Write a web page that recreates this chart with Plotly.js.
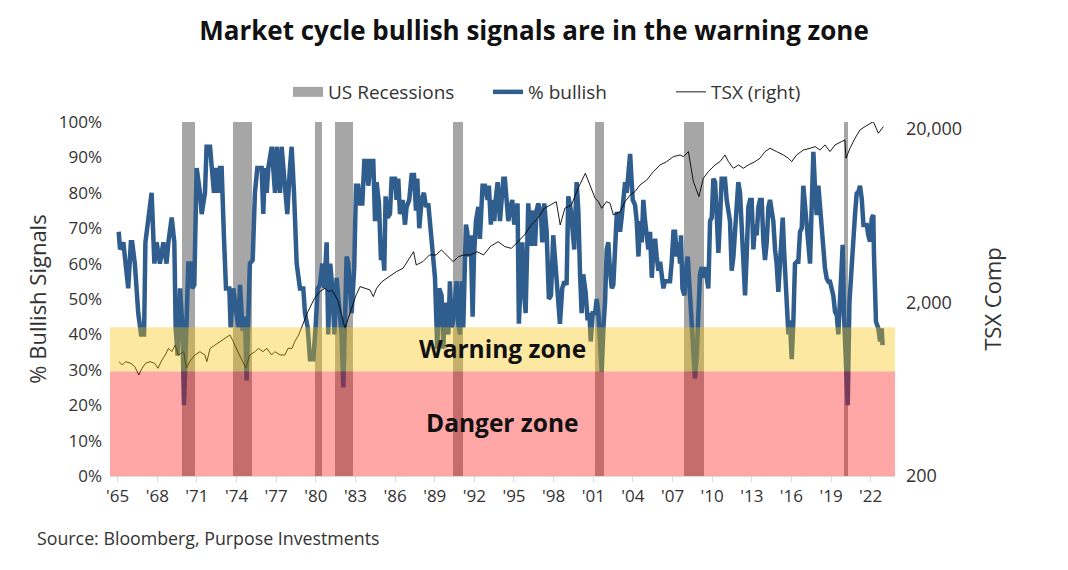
<!DOCTYPE html>
<html>
<head>
<meta charset="utf-8">
<script src="https://cdn.plot.ly/plotly-3.0.1.min.js"></script>
<style>
html,body{margin:0;padding:0;background:#fff;}
#chart{width:1068px;height:570px;}
</style>
</head>
<body>
<div id="chart"></div>
<script>
// ---- Data ----
var bullishYears = [1965.08,1965.18,1965.43,1965.6,1965.8,1966.0,1966.1,1966.3,1966.56,1966.77,1967.0,1967.1,1967.3,1967.57,1967.78,1967.95,1968.2,1968.46,1968.7,1968.84,1969.09,1969.29,1969.39,1969.54,1969.72,1969.9,1970.02,1970.22,1970.35,1970.55,1970.65,1970.8,1970.98,1971.23,1971.36,1971.61,1971.73,1971.99,1972.11,1972.29,1972.44,1972.62,1972.74,1972.87,1973.05,1973.2,1973.45,1973.55,1973.75,1973.96,1974.13,1974.26,1974.46,1974.64,1974.76,1974.89,1975.01,1975.22,1975.39,1975.57,1975.9,1976.02,1976.15,1976.28,1976.4,1976.66,1976.78,1976.91,1977.03,1977.16,1977.29,1977.41,1977.54,1977.66,1977.84,1978.04,1978.17,1978.35,1978.55,1978.8,1979.05,1979.18,1979.38,1979.56,1979.81,1979.98,1980.14,1980.31,1980.49,1980.64,1980.82,1980.94,1981.09,1981.25,1981.4,1981.57,1981.75,1981.95,1982.08,1982.2,1982.33,1982.46,1982.71,1982.91,1983.04,1983.21,1983.34,1983.52,1983.67,1983.85,1983.97,1984.17,1984.35,1984.48,1984.6,1984.78,1984.93,1985.03,1985.18,1985.28,1985.43,1985.61,1985.74,1985.99,1986.11,1986.24,1986.37,1986.57,1986.75,1986.87,1987.07,1987.25,1987.43,1987.58,1987.68,1987.83,1988.01,1988.18,1988.34,1988.51,1988.64,1988.84,1989.02,1989.19,1989.34,1989.52,1989.65,1989.77,1989.9,1990.03,1990.15,1990.28,1990.4,1990.53,1990.66,1990.78,1990.91,1991.04,1991.16,1991.36,1991.46,1991.62,1991.72,1991.87,1991.97,1992.12,1992.3,1992.42,1992.62,1992.8,1993.0,1993.1,1993.25,1993.36,1993.51,1993.61,1993.76,1993.94,1994.06,1994.19,1994.31,1994.44,1994.57,1994.69,1994.87,1995.02,1995.12,1995.27,1995.37,1995.53,1995.63,1995.78,1995.88,1996.08,1996.28,1996.46,1996.59,1996.71,1996.84,1997.04,1997.14,1997.29,1997.47,1997.64,1997.8,1997.97,1998.15,1998.3,1998.48,1998.65,1998.81,1998.98,1999.11,1999.31,1999.41,1999.56,1999.74,1999.87,2000.0,2000.12,2000.24,2000.42,2000.57,2000.71,2000.81,2000.96,2001.14,2001.26,2001.39,2001.46,2001.64,2001.77,2001.89,2002.02,2002.14,2002.27,2002.4,2002.52,2002.65,2002.78,2002.9,2003.03,2003.15,2003.28,2003.41,2003.53,2003.66,2003.79,2003.91,2003.99,2004.16,2004.29,2004.42,2004.54,2004.67,2004.79,2004.92,2005.05,2005.17,2005.3,2005.43,2005.55,2005.68,2005.8,2005.93,2006.06,2006.18,2006.31,2006.43,2006.56,2006.69,2006.81,2006.94,2007.07,2007.19,2007.32,2007.44,2007.57,2007.64,2007.75,2007.9,2008.0,2008.15,2008.25,2008.4,2008.58,2008.7,2008.83,2008.96,2009.08,2009.21,2009.33,2009.46,2009.59,2009.71,2009.84,2009.97,2010.09,2010.22,2010.34,2010.47,2010.6,2010.72,2010.85,2010.97,2011.1,2011.23,2011.35,2011.48,2011.61,2011.73,2011.86,2011.98,2012.11,2012.24,2012.36,2012.49,2012.61,2012.74,2012.87,2012.99,2013.12,2013.25,2013.37,2013.5,2013.62,2013.75,2013.88,2014.0,2014.13,2014.26,2014.38,2014.51,2014.63,2014.76,2014.88,2015.01,2015.14,2015.26,2015.34,2015.44,2015.59,2015.69,2015.77,2015.89,2016.02,2016.15,2016.27,2016.4,2016.52,2016.65,2016.78,2016.9,2017.03,2017.16,2017.28,2017.41,2017.53,2017.66,2017.79,2017.91,2018.04,2018.16,2018.29,2018.42,2018.54,2018.67,2018.8,2018.92,2019.05,2019.17,2019.3,2019.43,2019.55,2019.68,2019.81,2019.88,2019.98,2020.13,2020.26,2020.39,2020.49,2020.64,2020.81,2020.94,2021.07,2021.19,2021.32,2021.45,2021.57,2021.7,2021.82,2021.95,2022.08,2022.2,2022.25,2022.4,2022.58,2022.71,2022.83,2022.9];
var bullishPct = [69,64,66,60,53,66,66,60,46,40,40,66,73,80,60,66,60,66,60,66,73,66,42,34,53,42,20,44,60,60,53,54,87,80,74,80,93,93,87,80,87,80,87,87,67,53,53,42,53,46,42,54,41,45,27,45,60,61,80,87,87,74,87,80,87,93,87,80,93,87,80,93,87,80,74,87,93,80,60,53,53,46,42,33,33,42,53,54,60,53,66,40,60,53,40,56,47,40,25,42,62,60,46,59,82,82,77,77,89,89,82,89,89,72,83,77,61,66,58,79,73,74,84,84,78,84,74,78,71,76,78,85,85,75,84,70,78,80,76,77,71,62,56,36,53,51,36,49,45,40,55,42,44,49,55,43,40,55,42,71,69,62,68,45,62,72,76,67,82,82,78,82,71,78,72,78,83,72,78,84,84,78,72,75,78,71,73,77,43,56,66,51,46,77,65,75,65,75,77,74,66,77,69,50,51,68,60,52,43,53,55,54,79,75,71,64,83,75,57,46,57,52,44,46,38,46,46,50,46,42,29.5,42,49,64,66,58,53,54,66,74,74,69,73,77.5,83,80,86,91,83,78,76.6,72,62,72,66,78,72,68,64,69,56,64,67,62,58,60.5,56,53,55,55,55,55,60.5,69,69,62,66,60,68,53,51,58,62,55,46,36,27.6,34,45,57,59,56,59,55,53,72,73,84,83,74,63,73,84,84,84,78,74,72,58,62,69,76,83,80,70,62,51,62,76,78,78,64,71,68,76,78,78,66,61,66,76,78,74,72,64,60,52,62,69,73,64,55,45,40,44,33,44,60,60.5,60.5,69,70,82,76.6,70,66,60,75.6,91.6,81,73.7,82,76.6,70.9,62.4,58.7,55.8,54.9,54.9,53,51,46.4,45.5,40,49,59.6,65.3,45.5,31.4,20,49,55.8,64.3,73.7,79.8,80.3,82,78.4,70.9,70.9,70.9,68,66.2,72.8,73.7,62.4,43.6,41.7,38,41.7,37];

var tsxYears = [1965.1,1965.35,1965.6,1966.0,1966.3,1966.6,1966.85,1967.1,1967.45,1967.8,1968.05,1968.35,1968.6,1968.85,1969.1,1969.35,1969.6,1970.0,1970.2,1970.45,1970.85,1971.23,1971.6,1971.75,1972.0,1972.4,1972.75,1973.1,1973.5,1973.75,1974.0,1974.25,1974.5,1974.7,1975.0,1975.4,1975.65,1976.0,1976.3,1976.65,1976.9,1977.3,1977.65,1977.9,1978.2,1978.4,1978.7,1978.9,1979.0,1979.4,1979.9,1980.3,1980.7,1980.95,1981.2,1981.45,1981.7,1981.95,1982.2,1982.45,1982.8,1983.05,1983.35,1983.7,1984.1,1984.35,1984.6,1985.0,1985.35,1985.75,1986.1,1986.6,1987.1,1987.4,1987.6,1988.1,1988.6,1989.1,1989.5,1989.9,1990.4,1990.8,1991.2,1991.7,1992.2,1992.7,1993.2,1993.8,1994.3,1994.8,1995.3,1995.8,1996.3,1996.8,1997.3,1997.8,1998.2,1998.5,1998.85,1999.35,1999.85,2000.4,2000.75,2001.14,2001.39,2001.64,2002.0,2002.27,2002.52,2002.78,2003.03,2003.4,2003.8,2004.16,2004.54,2005.05,2005.55,2006.06,2006.56,2007.07,2007.57,2007.82,2008.2,2008.58,2008.83,2009.0,2009.33,2009.71,2010.22,2010.6,2010.97,2011.23,2011.6,2012.0,2012.36,2012.74,2013.25,2013.62,2014.0,2014.38,2014.88,2015.39,2015.77,2016.02,2016.4,2016.9,2017.41,2017.79,2018.16,2018.54,2018.92,2019.3,2019.8,2020.05,2020.13,2020.43,2020.81,2021.19,2021.57,2021.95,2022.2,2022.58,2022.83,2022.96];
var tsxLevel = [912,873,912,892,853,764,835,892,912,892,835,932,996,1088,1041,1138,996,1041,835,912,996,1041,996,912,1088,1138,1189,1243,1300,1189,1088,996,912,835,996,1041,1088,1041,1088,996,1041,996,996,1088,1088,1189,1300,1420,1484,1771,2113,2309,2414,2309,2361,2209,2022,1694,1420,1621,1934,2209,2468,2414,2361,2161,2414,2636,2756,2880,3011,3148,3594,3926,3290,3438,3756,3756,4015,3756,3438,3674,3756,3756,3926,3756,4200,4480,4200,4100,4480,4900,5590,6110,6980,7290,7620,5590,6980,7290,9100,11100,9510,7970,7620,6980,7620,7460,6390,6530,6680,7620,8330,8710,9510,10160,11350,12400,12970,13850,14160,13850,14800,9940,8710,8150,10390,11350,12400,12970,14160,12970,11870,12400,11870,12400,12970,13550,14800,15470,14800,14160,13550,12970,14160,15130,15470,15820,15130,16180,14800,16180,16910,17290,13550,15470,17670,19730,20630,21570,22030,18880,20180,20630];

var recessionStart = [1969.9,1973.75,1979.95,1981.45,1990.4,2001.15,2007.85,2019.95];
var recessionEnd   = [1970.85,1975.15,1980.5,1982.85,1991.15,2001.85,2009.35,2020.25];

var xTickVals = [1965,1968,1971,1974,1977,1980,1983,1986,1989,1992,1995,1998,2001,2004,2007,2010,2013,2016,2019,2022];
var xTickText = ["'65","'68","'71","'74","'77","'80","'83","'86","'89","'92","'95","'98","'01","'04","'07","'10","'13","'16","'19","'22"];

var warningZone = [29.5, 42];
var dangerZone = [0, 29.5];

// ---- Derived bar geometry ----
var recMid = recessionStart.map(function(s,i){return (s+recessionEnd[i])/2;});
var recWidth = recessionStart.map(function(s,i){return recessionEnd[i]-s;});
var recHeight = recessionStart.map(function(){return 100;});

var FONT = 'Open Sans, sans-serif';
var traces = [
  {type:'bar', x:recMid, y:recHeight, width:recWidth, marker:{color:'#A6A6A6', line:{width:0}},
   name:'US Recessions', showlegend:false, legendgroup:'rec', hoverinfo:'skip', xaxis:'x', yaxis:'y'},
  {type:'scatter', mode:'lines', x:[null], y:[null], name:'US Recessions', legendgroup:'rec', legendwidth:155,
   line:{color:'#A6A6A6', width:10}, xaxis:'x', yaxis:'y'},
  {type:'scatter', mode:'lines', x:bullishYears, y:bullishPct, name:'% bullish', legendwidth:138,
   line:{color:'#2F5D8E', width:4.5}, xaxis:'x', yaxis:'y'},
  {type:'scatter', mode:'lines', x:tsxYears, y:tsxLevel, name:'TSX (right)', legendwidth:100,
   line:{color:'#000000', width:0.9}, xaxis:'x', yaxis:'y2'}
];

var layout = {
  width:1068, height:570,
  margin:{l:110, r:173, t:122, b:94},
  paper_bgcolor:'#ffffff', plot_bgcolor:'#ffffff',
  font:{family:FONT, color:'#222', size:17},
  barmode:'overlay', bargap:0,
  title:{text:'<b>Market cycle bullish signals are in the warning zone</b>', font:{family:FONT, size:26, color:'#111'},
         xref:'container', x:0.5, xanchor:'center', yref:'container', y:1-31/570, yanchor:'middle'},
  showlegend:true,
  legend:{orientation:'h', xref:'container', yref:'container', x:288/1068, xanchor:'left', y:1-92/570, yanchor:'middle',
          font:{family:FONT, size:19, color:'#333'}, traceorder:'normal', tracegroupgap:0},
  xaxis:{range:[1964.42, 2023.84], tickmode:'array', tickvals:xTickVals, ticktext:xTickText,
         showgrid:false, zeroline:false, showline:true, linecolor:'#D9D9D9', linewidth:1,
         ticks:'outside', ticklen:5, tickcolor:'#D9D9D9', tickfont:{size:17, color:'#333'}},
  yaxis:{range:[0,100], dtick:10, ticksuffix:'%', showgrid:false, zeroline:false, showline:false,
         tickfont:{size:17, color:'#333'}, ticklabelstandoff:7,
         title:{text:'% Bullish Signals', font:{size:22, color:'#333'}, standoff:6}},
  yaxis2:{type:'log', range:[2.301, 4.341], overlaying:'y', side:'right', tickmode:'array',
          tickvals:[200,2000,20000], ticktext:['200','2,000','20,000'], showgrid:false, zeroline:false,
          showline:false, tickfont:{size:18, color:'#333'}, ticklabelstandoff:10,
          title:{text:'TSX Comp', font:{size:22, color:'#333'}, standoff:24}},
  shapes:[
    {type:'rect', layer:'above', xref:'x domain', yref:'y', x0:0, x1:1, y0:warningZone[0], y1:warningZone[1],
     fillcolor:'rgba(247,192,0,0.37)', line:{width:0}},
    {type:'rect', layer:'above', xref:'x domain', yref:'y', x0:0, x1:1, y0:dangerZone[0], y1:dangerZone[1],
     fillcolor:'rgba(255,0,0,0.35)', line:{width:0}}
  ],
  annotations:[
    {text:'<b>Warning zone</b>', xref:'x', yref:'y', x:1994.1, y:35.9, showarrow:false,
     font:{family:FONT, size:24.5, color:'#111'}},
    {text:'<b>Danger zone</b>', xref:'x', yref:'y', x:1994.1, y:15, showarrow:false,
     font:{family:FONT, size:24.5, color:'#111'}},
    {text:'Source: Bloomberg, Purpose Investments', xref:'paper', yref:'paper', x:(35-110)/785, y:(476-538)/354,
     xanchor:'left', yanchor:'middle', showarrow:false, font:{family:FONT, size:17.8, color:'#333'}}
  ]
};

Plotly.newPlot('chart', traces, layout, {displayModeBar:false, staticPlot:true});
</script>
</body>
</html>
